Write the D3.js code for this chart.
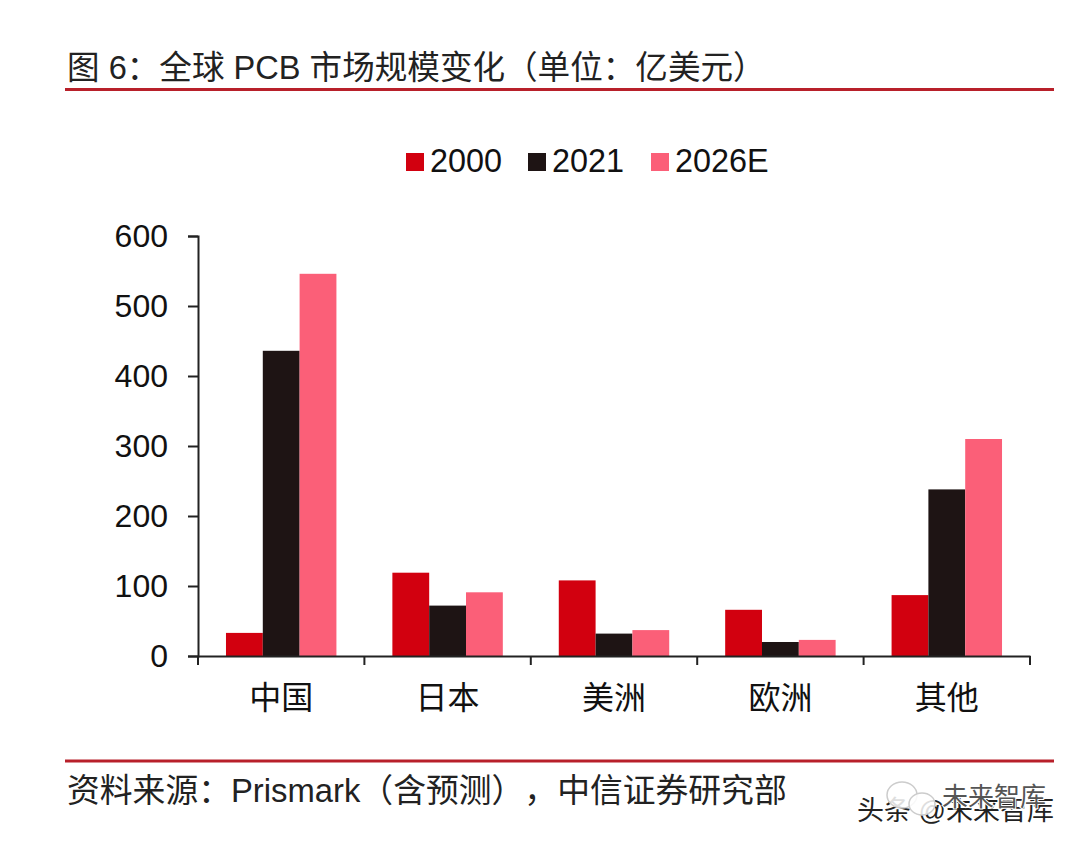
<!DOCTYPE html>
<html><head><meta charset="utf-8"><style>html,body{margin:0;padding:0;background:#fff}svg text{text-spacing-trim:space-all}</style>
<script src="https://cdn.jsdelivr.net/npm/d3@7"></script></head><body><svg id="c" width="1080" height="848"></svg>
<script>
const categories=["中国","日本","美洲","欧洲","其他"];
const seriesNames=["2000","2021","2026E"];
const v2000=[33,119,108,66,87];
const v2021=[436,72,32,20,238];
const v2026=[546,91,37,23,310];
const yTicks=[0,100,200,300,400,500,600];
const colors=["#d2000f","#1e1414","#fb5f78"];
const F='"Liberation Sans","Noto Sans CJK SC",sans-serif';
const values=[v2000,v2021,v2026];
const svg=d3.select("#c").style("display","block").style("font-family",F);
const x=d3.scaleBand().domain(categories).range([198,1030]);
const y=d3.scaleLinear().domain([0,600]).range([656,236]);
const sub=d3.scaleBand().domain(seriesNames).range([0,x.bandwidth()]).paddingInner(0).paddingOuter(0.76);
svg.append("text").attr("x",67).attr("y",79).attr("font-size",32.6).attr("fill","#222").text("图 6：全球 PCB 市场规模变化（单位：亿美元）");
svg.append("line").attr("x1",65).attr("x2",1054).attr("y1",89.5).attr("y2",89.5).attr("stroke","#b8202a").attr("stroke-width",3);
svg.append("line").attr("x1",65).attr("x2",1054).attr("y1",761).attr("y2",761).attr("stroke","#b8202a").attr("stroke-width",3);
svg.append("text").attr("x",67).attr("y",802).attr("font-size",32.8).attr("fill","#222").text("资料来源：Prismark（含预测），中信证券研究部");
seriesNames.forEach((s,i)=>{
 const g=svg.append("g");
 g.selectAll("rect").data(values[i]).join("rect")
  .attr("x",(d,j)=>x(categories[j])+sub(s)).attr("width",sub.bandwidth())
  .attr("y",d=>y(d)).attr("height",d=>y(0)-y(d)).attr("fill",colors[i]);
});
const ay=svg.append("g").attr("transform","translate(198,0)").call(d3.axisLeft(y).tickValues(yTicks).tickSize(10).tickSizeOuter(10).tickPadding(20));
ay.selectAll("text").attr("font-size",32).attr("font-family",F).attr("fill","#111");
ay.selectAll("line,path").attr("stroke","#222").attr("stroke-width",2);
const ax=svg.append("g").attr("transform","translate(0,656)").call(d3.axisBottom(x).tickSize(0).tickPadding(30));
ax.selectAll("text").attr("font-size",32).attr("font-family",F).attr("fill","#111");
ax.selectAll("path").attr("stroke","#222").attr("stroke-width",2);
ax.selectAll(".sep").data(d3.range(categories.length+1)).join("line").attr("class","sep")
 .attr("x1",i=>198+i*x.step()).attr("x2",i=>198+i*x.step()).attr("y1",0).attr("y2",9).attr("stroke","#222").attr("stroke-width",2);
const lx=[406,528,651];
seriesNames.forEach((s,i)=>{
 svg.append("rect").attr("x",lx[i]).attr("y",153).attr("width",18).attr("height",18).attr("fill",colors[i]);
 svg.append("text").attr("x",lx[i]+24).attr("y",172).attr("font-size",32.4).attr("fill","#111").text(s);
});
svg.append("text").attr("x",857).attr("y",820).attr("font-size",27).attr("fill","#222").text("头条 @未来智库");
const icon=svg.append("g").attr("fill","#fff").attr("fill-opacity",0.85).attr("stroke","#ccc").attr("stroke-width",1.5);
icon.append("ellipse").attr("cx",902).attr("cy",795).attr("rx",15).attr("ry",13);
icon.append("ellipse").attr("cx",922).attr("cy",804).attr("rx",13).attr("ry",11);
svg.append("text").attr("x",942).attr("y",806).attr("font-size",26).attr("fill","#555")
 .attr("stroke","#fff").attr("stroke-width",2).attr("paint-order","stroke").text("未来智库");
</script></body></html>
